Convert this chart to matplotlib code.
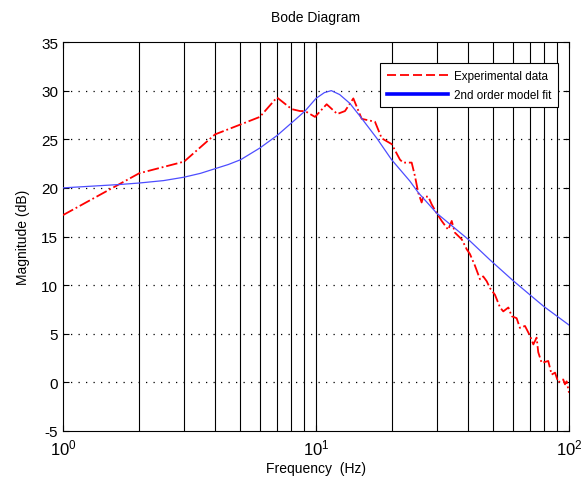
import matplotlib
matplotlib.use("Agg")
import matplotlib.pyplot as plt
from matplotlib.lines import Line2D
from matplotlib.ticker import LogLocator, NullFormatter, LogFormatterMathtext

plt.rcParams['font.family'] = ['Liberation Sans', 'DejaVu Sans']
plt.rcParams['mathtext.fontset'] = 'custom'
plt.rcParams['mathtext.rm'] = 'Liberation Sans'
plt.rcParams['mathtext.it'] = 'Liberation Sans:italic'
plt.rcParams['mathtext.default'] = 'regular'
plt.rcParams['axes.unicode_minus'] = False

# Experimental data (Hz, dB)
exp_freq = [1.0, 2.0, 3.01, 3.99, 5.01, 6.0, 7.01, 8.02, 8.65, 9.05, 9.91, 11.02, 12.14,
            13.02, 14.05, 15.16, 17.11, 18.19, 19.92, 21.48, 22.1, 23.17, 23.89, 24.62,
            25.37, 26.16, 26.55, 27.8, 28.67, 30.0, 31.4, 33.3, 34.4, 35.4, 37.7, 39.4,
            40.6, 42.5, 44.5, 45.8, 47.3, 48.7, 51.0, 53.4, 55.0, 57.6, 59.4, 62.1, 64.0,
            67.0, 70.1, 72.3, 74.5, 75.6, 78.0, 82.8, 85.4, 88.1, 90.7, 94.9, 96.4, 97.9, 100.0]
exp_db = [17.2, 21.5, 22.7, 25.5, 26.5, 27.3, 29.3, 28.1, 27.9, 27.9, 27.3, 28.6, 27.6,
          27.9, 29.2, 27.1, 26.8, 25.1, 24.5, 22.9, 22.6, 22.6, 22.6, 21.2,
          19.5, 18.5, 19.1, 19.1, 18.3, 17.4, 16.6, 15.7, 16.6, 15.4, 14.7, 13.7,
          13.2, 12.0, 10.6, 10.9, 10.4, 9.7, 9.0, 7.7, 7.3, 7.7, 6.8, 6.6, 5.6,
          5.8, 4.8, 3.9, 4.6, 3.1, 2.0, 2.2, 0.8, 1.0, 0.0, 0.3, -0.2, 0.1, -1.06]

# 2nd order model fit (Hz, dB)
fit_freq = [1.0, 1.68, 2.0, 2.5, 3.01, 3.5, 4.02, 4.5, 5.04, 6.0, 7.03, 8.02, 9.05, 10.0,
            10.8, 11.5, 12.4, 13.6, 14.9, 17.4, 19.9, 23.5, 25.4, 30.0, 40.0, 48.7, 59.9,
            70.1, 79.6, 100.0]
fit_db = [20.0, 20.35, 20.5, 20.75, 21.1, 21.5, 22.0, 22.4, 22.9, 24.1, 25.4, 26.7, 27.9,
          29.2, 29.8, 30.0, 29.6, 28.7, 27.4, 25.1, 22.9, 20.7, 19.5, 17.4, 14.7, 12.6,
          10.5, 9.0, 7.8, 5.9]

y_ticks = [-5, 0, 5, 10, 15, 20, 25, 30, 35]

fig = plt.figure(figsize=(5.81, 4.85), dpi=100)
ax = fig.add_axes([0.1084, 0.1093, 0.9793 - 0.1084, 0.9113 - 0.1093])

ax.set_xscale('log')
ax.set_xlim(1, 100)
ax.set_ylim(-5, 35)

# vertical grid lines (solid) at all decade/minor positions
for dec in [1, 10]:
    for k in range(2, 11):
        v = dec * k
        if v < 100:
            ax.axvline(v, color='black', lw=0.8, zorder=1)
# horizontal dotted grid
for yv in y_ticks[1:-1]:
    ax.axhline(yv, color='black', lw=0.9, ls=(0, (1, 5)), zorder=1)

ax.plot(exp_freq, exp_db, color='red', lw=1.3, ls='-.', zorder=3)
ax.plot(fit_freq, fit_db, color='#4d4dff', lw=0.9, zorder=3)

ax.set_yticks(y_ticks)
ax.xaxis.set_major_locator(LogLocator(base=10, numticks=5))
ax.xaxis.set_major_formatter(LogFormatterMathtext())
ax.xaxis.set_minor_formatter(NullFormatter())
ax.tick_params(axis='both', which='both', direction='in', top=True, right=True)
ax.tick_params(axis='y', labelsize=11, length=4)
ax.tick_params(axis='x', which='major', labelsize=12, length=4, pad=5)
ax.tick_params(axis='x', which='minor', length=2)
for s in ax.spines.values():
    s.set_linewidth(0.8)

ax.set_title('Bode Diagram', fontsize=10, pad=15)
ax.set_xlabel('Frequency  (Hz)', fontsize=10, labelpad=2)
ax.set_ylabel('Magnitude (dB)', fontsize=10, labelpad=8)

handles = [Line2D([], [], color='red', lw=1.3, ls=(0, (5, 2.2))),
           Line2D([], [], color='blue', lw=2.6)]
leg = ax.legend(handles, ['Experimental data', '2nd order model fit'], loc='upper right',
                bbox_to_anchor=(0.9785, 0.945), borderaxespad=0, fontsize=8.4,
                fancybox=False, edgecolor='black', framealpha=1, handlelength=5.3,
                handletextpad=0.5, borderpad=0.55, labelspacing=0.6)
leg.get_frame().set_linewidth(0.8)

fig.savefig('out.png', dpi=100)
